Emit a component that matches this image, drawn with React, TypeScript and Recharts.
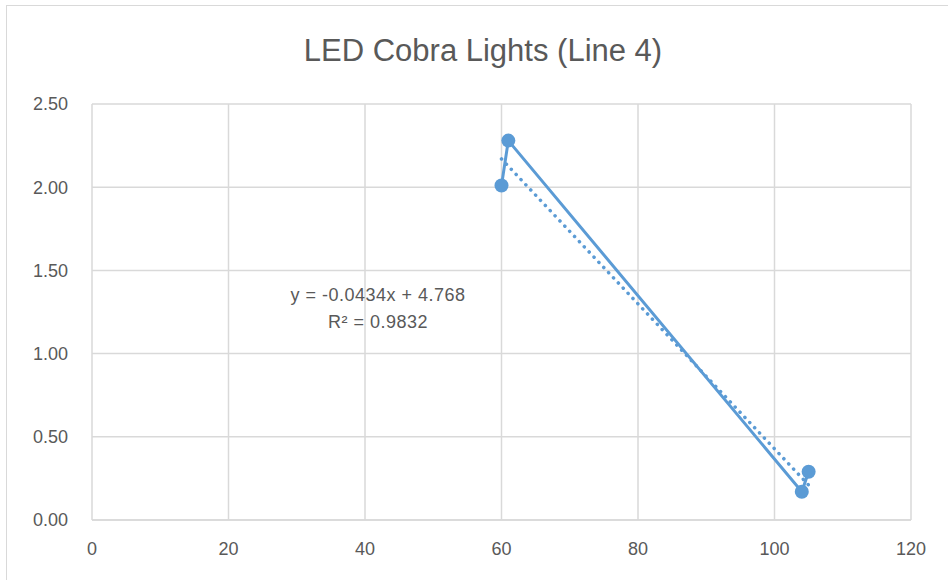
import { ScatterChart, Scatter, XAxis, YAxis, CartesianGrid } from 'recharts'

// measured points (hours vs. value), in plotted order
const xValues = [60, 61, 104, 105]
const yValues = [2.01, 2.28, 0.17, 0.29]

// linear trendline ends
const trendX = [60, 105]
const trendY = [2.17, 0.21]

const xTicks = [0, 20, 40, 60, 80, 100, 120]
const yTicks = [0, 0.5, 1, 1.5, 2, 2.5]

const TITLE = 'LED Cobra Lights (Line 4)'
const EQUATION = 'y = -0.0434x + 4.768'
const R_SQUARED = 'R² = 0.9832'

const BLUE = '#5b9bd5'
const GRID = '#d9d9d9'
const TEXT = '#595959'
const FONT = '"Liberation Sans", Arial, sans-serif'

const points = xValues.map((x, i) => ({ x, y: yValues[i] }))
const trend = trendX.map((x, i) => ({ x, y: trendY[i] }))

export default function App() {
  return (
    <div style={{ position: 'absolute', left: 0, top: 0, width: 948, height: 580, background: '#fff', fontFamily: FONT }}>
      <div style={{ position: 'absolute', left: 6, top: 5, width: 950, height: 590, border: `1px solid ${GRID}` }} />
      <div style={{ position: 'absolute', left: 0, top: 33, width: 966, textAlign: 'center', fontSize: 31, color: TEXT }}>
        {TITLE}
      </div>
      <ScatterChart width={948} height={580} margin={{ top: 104, right: 37, bottom: 0, left: 0 }}>
        <CartesianGrid stroke={GRID} strokeWidth={1.5} />
        <XAxis
          type="number"
          dataKey="x"
          domain={[0, 120]}
          ticks={xTicks}
          height={60}
          tickLine={false}
          axisLine={{ stroke: GRID, strokeWidth: 1.5 }}
          tick={{ fill: TEXT, fontSize: 18, fontFamily: FONT }}
          tickMargin={16}
        />
        <YAxis
          type="number"
          dataKey="y"
          domain={[0, 2.5]}
          ticks={yTicks}
          width={92}
          tickLine={false}
          axisLine={false}
          tickFormatter={(v: number) => v.toFixed(2)}
          tick={{ fill: TEXT, fontSize: 18, fontFamily: FONT }}
          tickMargin={18}
        />
        <Scatter
          data={trend}
          line={{ stroke: BLUE, strokeWidth: 3.5, strokeDasharray: '0.1 7', strokeLinecap: 'round' }}
          shape={() => null}
          isAnimationActive={false}
        />
        <Scatter
          data={points}
          fill={BLUE}
          line={{ stroke: BLUE, strokeWidth: 3 }}
          shape={(p: any) => <circle cx={p.cx} cy={p.cy} r={7} fill={BLUE} />}
          isAnimationActive={false}
        />
      </ScatterChart>
      <div style={{ position: 'absolute', left: 258, top: 282, width: 240, textAlign: 'center', fontSize: 18, color: TEXT, lineHeight: '27px', letterSpacing: 0.5 }}>
        <div>{EQUATION}</div>
        <div>{R_SQUARED}</div>
      </div>
    </div>
  )
}
